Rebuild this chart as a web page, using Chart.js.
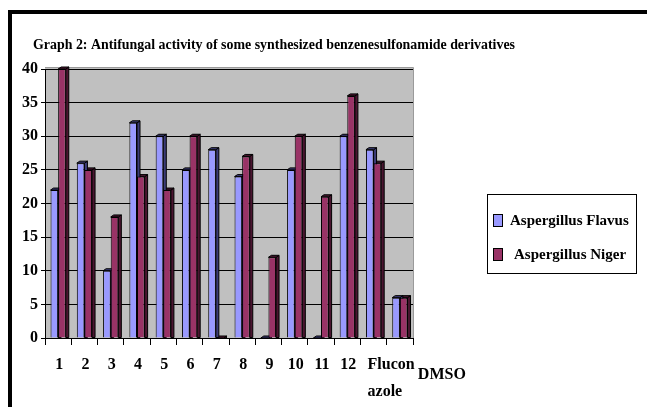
<!DOCTYPE html>
<html>
<head>
<meta charset="utf-8">
<script src="https://cdn.jsdelivr.net/npm/chart.js@4/dist/chart.umd.min.js"></script>
<style>
  html, body { margin: 0; padding: 0; background: #ffffff; }
  #wrap { position: relative; width: 647px; height: 407px; }
</style>
</head>
<body>
<div id="wrap"><canvas id="c" width="647" height="407"></canvas></div>
<script>
const chartTitle = 'Graph 2: Antifungal activity of some synthesized benzenesulfonamide derivatives';
const categories = ['1', '2', '3', '4', '5', '6', '7', '8', '9', '10', '11', '12', ['Flucon', 'azole'], 'DMSO'];
const seriesNames = ['Aspergillus Flavus', 'Aspergillus Niger'];
const flavusValues = [22, 26, 10, 32, 30, 25, 28, 24, 0, 25, 0, 30, 28, 6];
const nigerValues = [40, 25, 18, 24, 22, 30, 0, 27, 12, 30, 21, 36, 26, 6];
const yTicks = [0, 5, 10, 15, 20, 25, 30, 35, 40];

const frontColors = ['#9999FF', '#993366'];
const sideColors = ['#3C3C78', '#4A1530'];
const SERIF = '"Liberation Serif", "Times New Roman", serif';
const flucIndex = categories.length - 2;
const dmsoIndex = categories.length - 1;

const decorPlugin = {
  id: 'decor',
  beforeDraw(chart) {
    const ctx = chart.ctx, a = chart.chartArea;
    ctx.save();
    ctx.fillStyle = '#ffffff';
    ctx.fillRect(0, 0, chart.width, chart.height);
    // outer frame (left and top)
    ctx.fillStyle = '#000000';
    ctx.fillRect(8, 10, 4, chart.height - 10);
    ctx.fillRect(8, 10, chart.width - 8, 4);
    // plot wall
    ctx.fillStyle = '#C0C0C0';
    ctx.fillRect(a.left, a.top - 2, a.right - a.left, a.bottom - a.top + 2);
    ctx.strokeStyle = '#9A9A9A';
    ctx.lineWidth = 1;
    ctx.beginPath();
    ctx.moveTo(a.left, a.top - 1.5);
    ctx.lineTo(a.right + 0.5, a.top - 1.5);
    ctx.lineTo(a.right + 0.5, a.bottom);
    ctx.stroke();
    ctx.restore();
  },
  beforeDatasetsDraw(chart) {
    const ctx = chart.ctx;
    const dx = 3, dy = 2;
    ctx.save();
    ctx.lineWidth = 1;
    ctx.strokeStyle = '#000000';
    for (let i = chart.data.datasets.length - 1; i >= 0; i--) {
      const meta = chart.getDatasetMeta(i);
      meta.data.forEach(bar => {
        const p = bar.getProps(['x', 'y', 'base', 'width'], true);
        const l = p.x - p.width / 2, r = p.x + p.width / 2;
        ctx.fillStyle = sideColors[i];
        ctx.beginPath();
        ctx.moveTo(r, p.y);
        ctx.lineTo(r + dx, p.y - dy);
        ctx.lineTo(r + dx, p.base);
        ctx.lineTo(r, p.base);
        ctx.closePath();
        ctx.fill();
        ctx.stroke();
        ctx.beginPath();
        ctx.moveTo(l, p.y);
        ctx.lineTo(l + dx, p.y - dy);
        ctx.lineTo(r + dx, p.y - dy);
        ctx.lineTo(r, p.y);
        ctx.closePath();
        ctx.fill();
        ctx.stroke();
      });
    }
    ctx.restore();
  },
  afterDraw(chart) {
    const ctx = chart.ctx;
    ctx.save();
    // title
    ctx.fillStyle = '#000000';
    ctx.font = 'bold 14px ' + SERIF;
    ctx.textAlign = 'center';
    ctx.textBaseline = 'middle';
    ctx.fillText(chartTitle, 274, 45, 482);
    // legend
    ctx.strokeStyle = '#000000';
    ctx.lineWidth = 1;
    ctx.strokeRect(487.5, 194.5, 149, 79);
    const rows = [220, 254];
    const textX = [510, 514];
    chart.data.datasets.forEach((ds, i) => {
      ctx.fillStyle = frontColors[i];
      ctx.fillRect(493, rows[i] - 6, 9, 12);
      ctx.strokeRect(493.5, rows[i] - 5.5, 9, 12);
      ctx.fillStyle = '#000000';
      ctx.font = 'bold 15px ' + SERIF;
      ctx.textAlign = 'left';
      ctx.textBaseline = 'middle';
      ctx.fillText(ds.label, textX[i], rows[i] + 1, 633 - textX[i]);
    });
    ctx.restore();
  }
};

const tickFont = { family: SERIF, size: 16, weight: 'bold', lineHeight: 1.7 };

// extra label-only category axes (same categories) to place the last two labels like the original
function labelAxis(showIndex, align, offset, padding) {
  return {
    type: 'category',
    axis: 'x',
    position: { y: 0 },
    offset: true,
    grid: { display: false, drawTicks: false },
    border: { display: false },
    ticks: {
      color: '#000000', autoSkip: false, maxRotation: 0, minRotation: 0, align: align,
      padding: padding, labelOffset: offset, font: tickFont,
      callback(value, index) { return index === showIndex ? this.getLabelForValue(value) : ''; }
    }
  };
}

new Chart(document.getElementById('c'), {
  type: 'bar',
  data: {
    labels: categories,
    datasets: [
      { label: seriesNames[0], data: flavusValues, backgroundColor: frontColors[0], borderColor: '#000000', borderWidth: 1 },
      { label: seriesNames[1], data: nigerValues, backgroundColor: frontColors[1], borderColor: '#000000', borderWidth: 1 }
    ]
  },
  options: {
    responsive: false,
    animation: false,
    events: [],
    layout: { padding: { left: 0, right: 234, top: 69, bottom: 0 } },
    datasets: { bar: { categoryPercentage: 0.58, barPercentage: 1.0 } },
    plugins: { legend: { display: false }, title: { display: false }, tooltip: { enabled: false } },
    scales: {
      x: {
        afterFit(scale) { scale.height = 69; },
        grid: { display: true, drawOnChartArea: false, drawTicks: true, tickLength: 7, color: '#000000', offset: true },
        border: { display: true, color: '#000000', width: 1 },
        ticks: {
          color: '#000000', autoSkip: false, maxRotation: 0, minRotation: 0, padding: 6, labelOffset: 1,
          font: tickFont,
          callback(value, index) { return index < flucIndex ? this.getLabelForValue(value) : ''; }
        }
      },
      xFluc: labelAxis(flucIndex, 'start', -6, 13),
      xDmso: labelAxis(dmsoIndex, 'start', 18, 23),
      y: {
        min: 0, max: 40,
        afterFit(scale) { scale.width = 45; },
        afterBuildTicks(scale) { scale.ticks = yTicks.map(v => ({ value: v })); },
        grid: { color: '#000000', lineWidth: 1, tickLength: 4, drawTicks: true },
        border: { display: true, color: '#000000', width: 1 },
        ticks: { color: '#000000', padding: 3, font: { family: SERIF, size: 16, weight: 'bold' } }
      }
    }
  },
  plugins: [decorPlugin]
});
</script>
</body>
</html>
